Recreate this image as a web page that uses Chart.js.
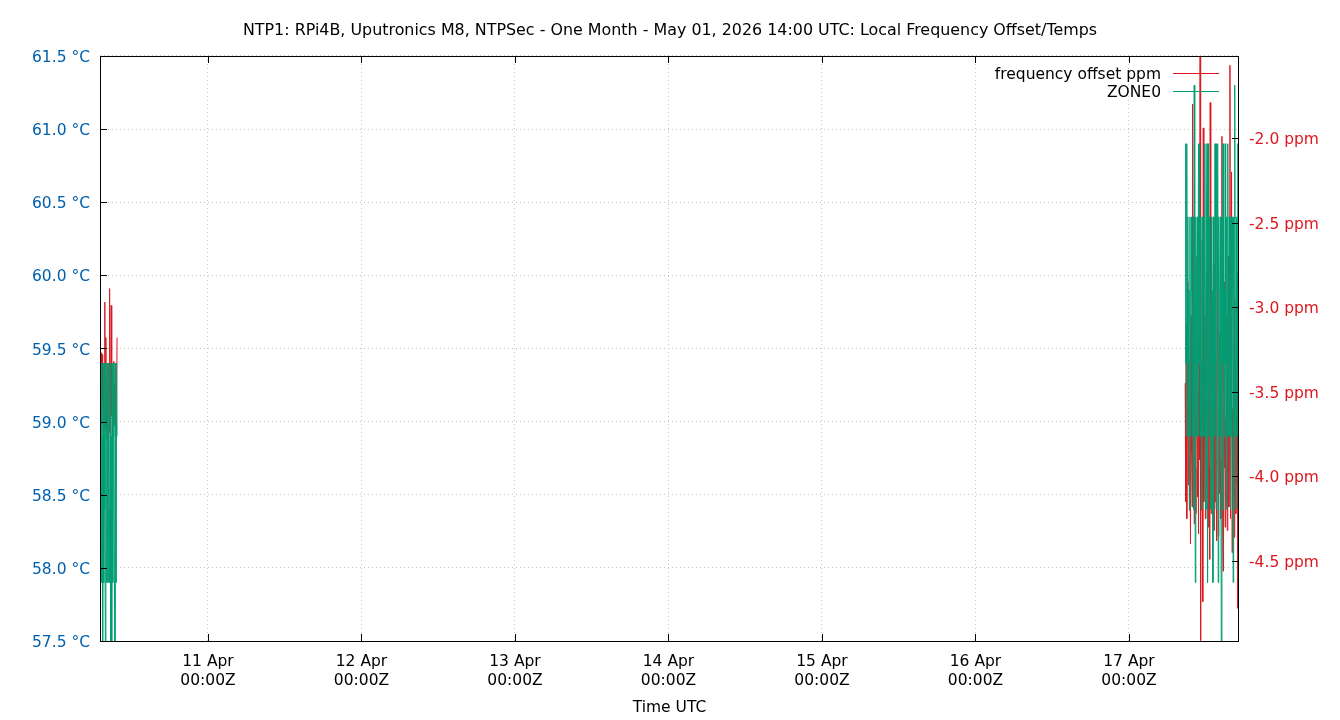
<!DOCTYPE html>
<html>
<head>
<meta charset="utf-8">
<title>NTP1 Local Frequency Offset/Temps</title>
<script src="https://cdn.jsdelivr.net/npm/chart.js@4.4.1/dist/chart.umd.min.js"></script>
<style>
  html, body { margin: 0; padding: 0; background: #ffffff; }
</style>
</head>
<body>
<canvas id="freq-temps" width="1340" height="720"></canvas>
<script>
// one sample every 5 minutes, two runs of data with a gap between them
var SAMPLE_MINUTES = 5;
var axisStart = Date.parse('2026-04-10T07:07:00Z');
var axisEnd   = Date.parse('2026-04-17T17:12:00Z');
var run1Start = Date.parse('2026-04-10T07:07:00Z');
var run2Start = Date.parse('2026-04-17T08:47:00Z');

var tickDates = ['2026-04-11T00:00:00Z', '2026-04-12T00:00:00Z', '2026-04-13T00:00:00Z',
                 '2026-04-14T00:00:00Z', '2026-04-15T00:00:00Z', '2026-04-16T00:00:00Z',
                 '2026-04-17T00:00:00Z'];
var tickLabels = ['11 Apr', '12 Apr', '13 Apr', '14 Apr', '15 Apr', '16 Apr', '17 Apr'];
var ppmTicks = [-4.5, -4.0, -3.5, -3.0, -2.5, -2.0];

// ZONE0 temperature, deg C
var tempRun1 = [
    58.4, 59.4, 57.9, 59.4, 58.9, 57.0, 59.4, 57.9, 59.4, 58.4,
    57.5, 59.4, 57.9, 58.9, 59.4, 57.9, 59.4, 58.4, 57.9, 59.4,
    57.0, 58.9, 57.5, 59.4, 57.9, 58.9, 59.4, 57.9, 57.0, 59.4,
    57.9, 59.4, 58.9
];
var tempRun2 = [
    59.4, 60.9, 58.9, 60.9, 59.4, 60.4, 58.9, 59.9, 58.4, 60.4,
    58.9, 59.9, 60.4, 58.9, 59.4, 60.4, 58.4, 61.3, 59.4, 57.9,
    60.4, 58.9, 59.9, 60.4, 58.9, 60.9, 59.4, 60.9, 58.9, 60.4,
    59.4, 58.4, 60.4, 58.9, 59.9, 60.4, 58.9, 60.9, 59.4, 58.4,
    60.4, 60.9, 57.9, 60.9, 59.4, 58.9, 60.4, 59.4, 58.4, 60.4,
    58.9, 59.9, 57.9, 60.4, 59.4, 58.9, 60.9, 59.4, 58.4, 60.9,
    59.9, 60.9, 57.9, 60.4, 58.9, 59.9, 60.4, 58.9, 57.0, 60.4,
    59.4, 60.9, 58.4, 59.9, 58.9, 60.9, 59.4, 58.4, 60.4, 58.9,
    60.9, 59.4, 58.9, 60.4, 59.4, 58.4, 60.4, 58.9, 59.9, 60.4,
    57.9, 60.4, 58.9, 61.3, 59.4, 58.4, 60.4, 58.9, 59.9, 60.9,
    58.9, 60.4
];

// frequency offset, ppm
var ppmRun1 = [
    -3.30, -3.62, -3.27, -3.70, -3.28, -3.55, -3.75, -3.40, -3.68, -2.97,
    -3.72, -3.18, -3.60, -3.78, -3.45, -3.66, -3.35, -3.74, -2.89, -3.58,
    -3.76, -2.99, -3.64, -3.42, -3.77, -3.50, -3.32, -3.70, -3.46, -3.62,
    -3.38, -3.74, -3.18
];
var ppmRun2 = [
    -3.45, -4.15, -3.10, -4.25, -3.60, -2.85, -4.05, -3.30, -4.20, -3.55,
    -4.40, -3.05, -3.85, -4.18, -1.80, -4.10, -3.40, -4.28, -2.95, -3.95,
    -4.22, -3.25, -2.70, -4.12, -3.50, -4.34, -3.15, -3.90, -1.515, -4.97,
    -3.35, -4.20, -2.60, -4.74, -1.94, -4.15, -3.70, -3.05, -4.25, -3.45,
    -2.80, -4.10, -3.60, -4.30, -3.20, -3.95, -4.49, -1.79, -3.85, -4.22,
    -3.00, -4.05, -3.55, -2.75, -4.32, -3.40, -4.15, -2.90, -3.80, -4.38,
    -3.30, -2.65, -4.35, -3.60, -4.10, -3.15, -3.90, -4.25, -3.50, -1.99,
    -4.20, -4.56, -3.25, -3.95, -2.85, -4.30, -3.65, -4.15, -3.05, -4.32,
    -3.45, -2.70, -4.18, -3.75, -1.57, -4.25, -3.40, -2.20, -4.45, -3.60,
    -4.10, -3.20, -4.36, -2.95, -3.85, -4.22, -3.35, -4.05, -2.80, -4.78,
    -3.55, -4.20
];

var RED   = '#dd181f';
var GREEN = '#009e73';
var BLUE  = '#0060ad';
var FONT  = 'DejaVu Sans';

function runPoints(start, values) {
    return values.map(function (v, i) {
        return { x: start + i * SAMPLE_MINUTES * 60000, y: v };
    });
}

function withGap(first, second) {
    // null point so the line is not drawn across the missing days
    var last = first[first.length - 1].x;
    return first.concat([{ x: last + SAMPLE_MINUTES * 60000, y: null }], second);
}

var freqPoints = withGap(runPoints(run1Start, ppmRun1), runPoints(run2Start, ppmRun2));
var tempPoints = withGap(runPoints(run1Start, tempRun1), runPoints(run2Start, tempRun2));

// gnuplot style frame, inward tick marks and key
var gnuplotFrame = {
    id: 'gnuplotFrame',
    afterDraw: function (chart) {
        var ctx = chart.ctx;
        var a = chart.chartArea;
        var x = chart.scales.x, y = chart.scales.y, y2 = chart.scales.y2;
        var TL = 7;
        ctx.save();
        ctx.strokeStyle = '#000';
        ctx.lineWidth = 1;
        ctx.beginPath();
        x.ticks.forEach(function (t) {
            var px = Math.round(x.getPixelForValue(t.value)) + 0.5;
            ctx.moveTo(px, a.bottom); ctx.lineTo(px, a.bottom - TL);
            ctx.moveTo(px, a.top);    ctx.lineTo(px, a.top + TL);
        });
        y.ticks.forEach(function (t) {
            var py = Math.round(y.getPixelForValue(t.value)) + 0.5;
            ctx.moveTo(a.left, py); ctx.lineTo(a.left + TL, py);
        });
        y2.ticks.forEach(function (t) {
            var py = Math.round(y2.getPixelForValue(t.value)) + 0.5;
            ctx.moveTo(a.right, py); ctx.lineTo(a.right - TL, py);
        });
        ctx.stroke();
        ctx.strokeRect(a.left + 0.5, a.top + 0.5, a.right - a.left - 1, a.bottom - a.top);

        // key, top right inside the plot
        var keys = [
            { text: 'frequency offset ppm', color: RED,   y: 73 },
            { text: 'ZONE0',                color: GREEN, y: 91 }
        ];
        ctx.font = '15.5px "' + FONT + '"';
        ctx.textAlign = 'right';
        ctx.textBaseline = 'middle';
        keys.forEach(function (k) {
            ctx.fillStyle = '#000';
            ctx.fillText(k.text, a.right - 78, k.y + 1.5);
            ctx.fillStyle = k.color;
            ctx.fillRect(a.right - 66, k.y, 46, 1);
        });
        ctx.restore();
    }
};

var gridOpts = { color: '#c4c4c4', lineWidth: 1, drawTicks: false };

new Chart(document.getElementById('freq-temps'), {
    type: 'line',
    data: {
        datasets: [
            {
                label: 'frequency offset ppm',
                data: freqPoints,
                yAxisID: 'y2',
                borderColor: RED,
                backgroundColor: RED,
                borderWidth: 1,
                pointRadius: 0,
                spanGaps: false,
                order: 1
            },
            {
                label: 'ZONE0',
                data: tempPoints,
                yAxisID: 'y',
                borderColor: GREEN,
                backgroundColor: GREEN,
                borderWidth: 1,
                pointRadius: 0,
                spanGaps: false,
                order: 0
            }
        ]
    },
    options: {
        responsive: false,
        animation: false,
        devicePixelRatio: 1,
        layout: { padding: 0 },
        font: { family: FONT },
        plugins: {
            legend: { display: false },
            tooltip: { enabled: false },
            title: {
                display: true,
                text: 'NTP1: RPi4B, Uputronics M8, NTPSec - One Month - May 01, 2026 14:00 UTC: Local Frequency Offset/Temps',
                color: '#000',
                font: { family: FONT, size: 15.9, weight: 'normal', lineHeight: 1.2 },
                padding: { top: 21.5, bottom: 15.4 }
            }
        },
        scales: {
            x: {
                type: 'linear',
                min: axisStart,
                max: axisEnd,
                bounds: 'data',
                grid: gridOpts,
                border: { display: false, dash: [1, 3] },
                afterBuildTicks: function (scale) {
                    scale.ticks = tickDates.map(function (d) { return { value: Date.parse(d) }; });
                },
                afterFit: function (scale) { scale.height = 79; },
                ticks: {
                    autoSkip: false,
                    maxRotation: 0,
                    padding: 12,
                    color: '#000',
                    font: { family: FONT, size: 15.5, lineHeight: 1.2 },
                    callback: function (value) {
                        var i = tickDates.map(Date.parse).indexOf(value);
                        return [tickLabels[i], '00:00Z'];
                    }
                },
                title: {
                    display: true,
                    text: 'Time UTC',
                    color: '#000',
                    font: { family: FONT, size: 15.5, lineHeight: 1.2 },
                    padding: { top: 0, bottom: 3 }
                }
            },
            y: {
                position: 'left',
                min: 57.5,
                max: 61.5,
                bounds: 'data',
                grid: gridOpts,
                border: { display: false, dash: [1, 3] },
                afterFit: function (scale) { scale.width = 100; },
                ticks: {
                    stepSize: 0.5,
                    padding: 10,
                    labelOffset: 2,
                    color: BLUE,
                    font: { family: FONT, size: 15.5 },
                    callback: function (v) { return v.toFixed(1) + ' °C'; }
                }
            },
            y2: {
                position: 'right',
                min: -4.973,
                max: -1.515,
                bounds: 'data',
                grid: { display: false, drawTicks: false },
                border: { display: false },
                afterBuildTicks: function (scale) {
                    scale.ticks = ppmTicks.map(function (v) { return { value: v }; });
                },
                afterFit: function (scale) { scale.width = 101; },
                ticks: {
                    padding: 10,
                    labelOffset: 2,
                    color: RED,
                    font: { family: FONT, size: 15.5 },
                    callback: function (v) { return v.toFixed(1) + ' ppm'; }
                }
            }
        }
    },
    plugins: [gnuplotFrame]
});
</script>
</body>
</html>
